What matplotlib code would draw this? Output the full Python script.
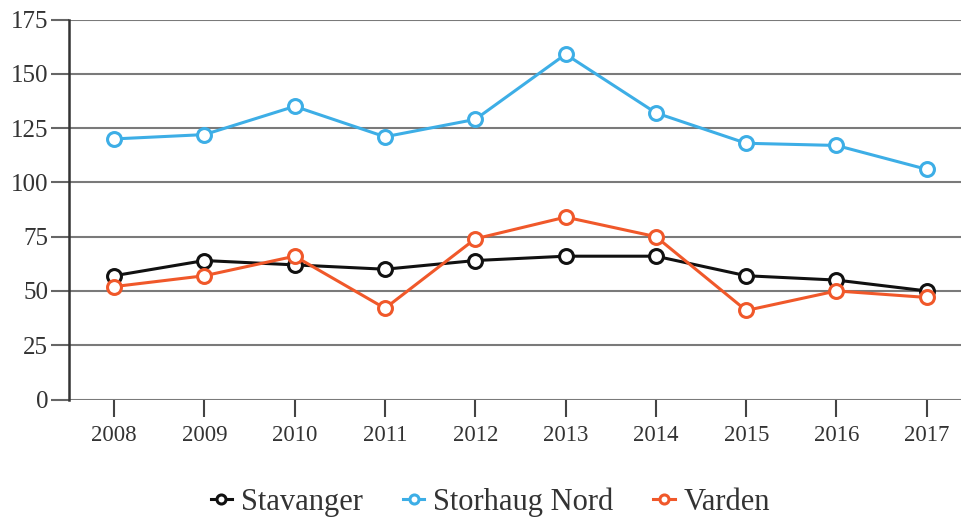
import matplotlib.pyplot as plt

years = [2008, 2009, 2010, 2011, 2012, 2013, 2014, 2015, 2016, 2017]
stavanger = [57, 64, 62, 60, 64, 66, 66, 57, 55, 50]
storhaug = [120, 122, 135, 121, 129, 159, 132, 118, 117, 106]
varden = [52, 57, 66, 42, 74, 84, 75, 41, 50, 47]

series_names = ['Stavanger', 'Storhaug Nord', 'Varden']
colors = ['#111111', '#3daee6', '#f0582a']

plt.rcParams['font.family'] = ['Liberation Serif', 'DejaVu Serif']

fig = plt.figure(figsize=(9.62, 5.2), dpi=100)
ax = fig.add_axes([0.0717, 0.2317, 0.9283, 0.7308])

for name, vals, c in zip(series_names, [stavanger, storhaug, varden], colors):
    ax.plot(years, vals, color=c, lw=2.2, marker='o', ms=10, mfc='white',
            mec=c, mew=2.2, label=name, zorder=3)

ax.set_ylim(0, 175)
ax.set_xlim(2007.5, 2017.39)
ax.set_yticks(range(0, 176, 25))
ax.set_xticks(years)
ax.grid(axis='y', color='#7a7a7a', lw=1.5, zorder=0)
ax.grid(axis='x', visible=False)
for s in ['top', 'right', 'bottom']:
    ax.spines[s].set_visible(False)
ax.spines['left'].set_linewidth(1.8)
ax.spines['left'].set_color('#333333')
ax.tick_params(axis='y', length=13, width=1.5, color='#666666', labelsize=18,
               labelcolor='#333333', pad=2)
ax.tick_params(axis='x', length=12, width=1.5, color='#444444', labelsize=16.5,
               labelcolor='#333333', pad=6)

leg = fig.legend(loc='center', bbox_to_anchor=(0.51, 0.035), ncol=3, frameon=False,
                 fontsize=22, handlelength=0.7, handletextpad=0.3, columnspacing=1.3,
                 markerscale=0.65, labelcolor='#333333')

fig.savefig('out.png', dpi=100)
